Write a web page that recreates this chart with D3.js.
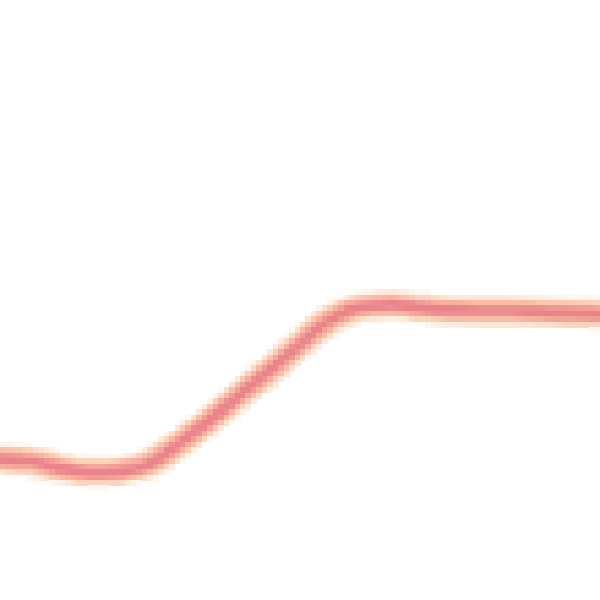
<!DOCTYPE html>
<html><head><meta charset="utf-8">
<script src="https://cdn.jsdelivr.net/npm/d3@7"></script>
<style>html,body{margin:0;padding:0;background:#fff;overflow:hidden}</style>
</head><body><div id="chart"></div>
<script>
// Data: x positions (0-100) and line values (0-100)
const xValues = [0,5,10,15,20,25,30,35,40,45,50,55,60,65,70,75,80,85,90,95,100];
const yValues = [23.5,23.2,22.0,21.3,21.5,22.8,26.2,30.0,34.2,38.3,42.7,46.7,48.8,49.2,48.7,48.3,48.2,48.2,48.0,47.8,47.7];

const W = 600, H = 600, RES = 110;
const x = d3.scaleLinear().domain([0, 100]).range([0, RES]);
const y = d3.scaleLinear().domain([0, 100]).range([RES, 0]);

const canvas = document.createElement('canvas');
canvas.width = RES; canvas.height = RES;
const ctx = canvas.getContext('2d');
ctx.fillStyle = '#fff'; ctx.fillRect(0, 0, RES, RES);
const line = d3.line().x((d, i) => x(xValues[i])).y(d => y(d)).curve(d3.curveMonotoneX).context(ctx);
const strokes = [
  {w: 5.4, c: '#fee0c8'},
  {w: 3.6, c: '#f8b09e'},
  {w: 1.7, c: '#e8848a'}
];
ctx.lineJoin = 'round'; ctx.lineCap = 'round';
strokes.forEach(s => { ctx.beginPath(); line(yValues); ctx.lineWidth = s.w; ctx.strokeStyle = s.c; ctx.stroke(); });

const img = ctx.getImageData(0, 0, RES, RES).data;
const cells = [];
for (let j = 0; j < RES; j++) for (let i = 0; i < RES; i++) {
  const k = (j * RES + i) * 4;
  const r = img[k], g = img[k+1], b = img[k+2];
  if (r + g + b < 750) cells.push({i, j, color: `rgb(${r},${g},${b})`});
}

const cx = d3.scaleLinear().domain([0, RES]).range([0, W]);
const cy = d3.scaleLinear().domain([0, RES]).range([0, H]);
const svg = d3.select('#chart').append('svg').attr('width', W).attr('height', H)
  .style('display', 'block').attr('shape-rendering', 'crispEdges');
svg.append('rect').attr('width', W).attr('height', H).attr('fill', '#fff');
svg.selectAll('rect.cell').data(cells).join('rect').attr('class', 'cell')
  .attr('x', d => cx(d.i)).attr('y', d => cy(d.j))
  .attr('width', cx(1) - cx(0) + 0.5).attr('height', cy(1) - cy(0) + 0.5)
  .attr('fill', d => d.color);
</script></body></html>
